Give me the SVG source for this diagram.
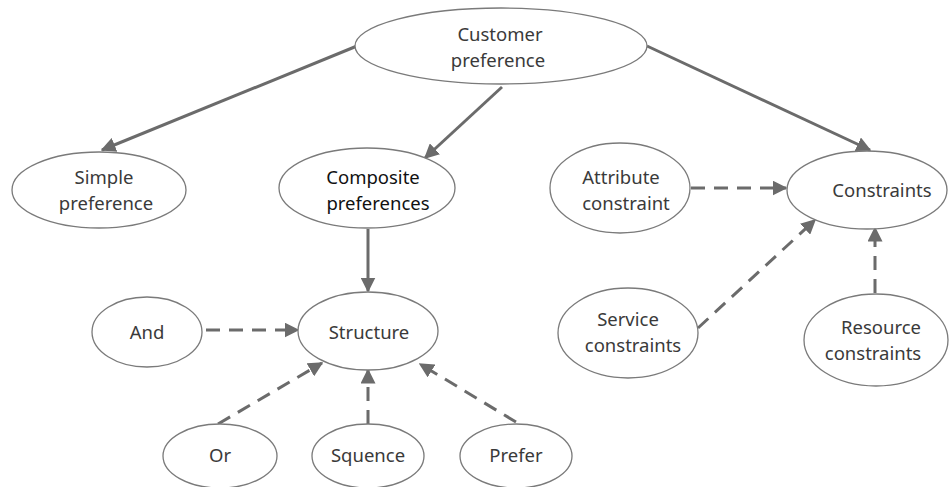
<svg xmlns="http://www.w3.org/2000/svg" width="950" height="487" viewBox="0 0 950 487">
<defs>
<style>
.n ellipse{fill:#fff;stroke:#7a7a7a;stroke-width:1.3}
.n text{font-family:"Noto Sans","Open Sans",sans-serif;font-size:18.5px;fill:#3a3a3a;text-anchor:middle}
#composite text{fill:#111}
.e line{stroke:#6b6b6b;stroke-width:3}
.d{stroke-dasharray:14 9}
</style>
<marker id="a" viewBox="0 0 10 10" refX="9" refY="5" markerWidth="5" markerHeight="5" markerUnits="strokeWidth" orient="auto">
<path d="M0,0 L10,5 L0,10 Z" fill="#6b6b6b"/>
</marker>
</defs>
<rect width="950" height="487" fill="#fff"/>
<g id="connectors" class="e">
<line x1="357" y1="46" x2="102" y2="150" marker-end="url(#a)"/>
<line x1="502" y1="87" x2="425" y2="158" marker-end="url(#a)"/>
<line x1="647" y1="46" x2="870" y2="150" marker-end="url(#a)"/>
<line x1="368" y1="229" x2="368" y2="291" marker-end="url(#a)"/>
<line class="d" x1="206" y1="330" x2="298" y2="330" marker-end="url(#a)"/>
<line class="d" x1="218" y1="424" x2="322" y2="363" marker-end="url(#a)"/>
<line class="d" x1="368" y1="424" x2="368" y2="370" marker-end="url(#a)"/>
<line class="d" x1="516" y1="422" x2="420" y2="364" marker-end="url(#a)"/>
<line class="d" x1="691" y1="188" x2="786" y2="188" marker-end="url(#a)"/>
<line class="d" x1="698" y1="328" x2="815" y2="220" marker-end="url(#a)"/>
<line class="d" x1="875" y1="293" x2="875" y2="228" marker-end="url(#a)"/>
</g>
<g id="customer" class="n"><ellipse cx="501" cy="46" rx="146" ry="38"/><text x="500" y="41">Customer</text><text x="498" y="67">preference</text></g>
<g id="simple" class="n"><ellipse cx="99" cy="190" rx="87" ry="38"/><text x="104" y="184">Simple</text><text x="106" y="210">preference</text></g>
<g id="composite" class="n"><ellipse cx="367" cy="188" rx="88" ry="40"/><text x="373" y="184">Composite</text><text x="378" y="210">preferences</text></g>
<g id="attribute" class="n"><ellipse cx="620" cy="188" rx="70" ry="45"/><text x="621" y="184">Attribute</text><text x="626" y="210">constraint</text></g>
<g id="constraints" class="n"><ellipse cx="867" cy="190" rx="80" ry="39"/><text x="882" y="197">Constraints</text></g>
<g id="structure" class="n"><ellipse cx="368" cy="331" rx="70" ry="39"/><text x="369" y="339">Structure</text></g>
<g id="and" class="n"><ellipse cx="147" cy="332" rx="55" ry="35"/><text x="147" y="339">And</text></g>
<g id="service" class="n"><ellipse cx="628" cy="333" rx="70" ry="45"/><text x="628" y="326">Service</text><text x="633" y="352">constraints</text></g>
<g id="resource" class="n"><ellipse cx="876" cy="340" rx="72" ry="46"/><text x="881" y="334">Resource</text><text x="873" y="360">constraints</text></g>
<g id="or" class="n"><ellipse cx="220" cy="456" rx="57" ry="32"/><text x="220" y="462">Or</text></g>
<g id="squence" class="n"><ellipse cx="368" cy="456" rx="56" ry="32"/><text x="368" y="462">Squence</text></g>
<g id="prefer" class="n"><ellipse cx="516" cy="456" rx="56" ry="32"/><text x="516" y="462">Prefer</text></g>
</svg>
